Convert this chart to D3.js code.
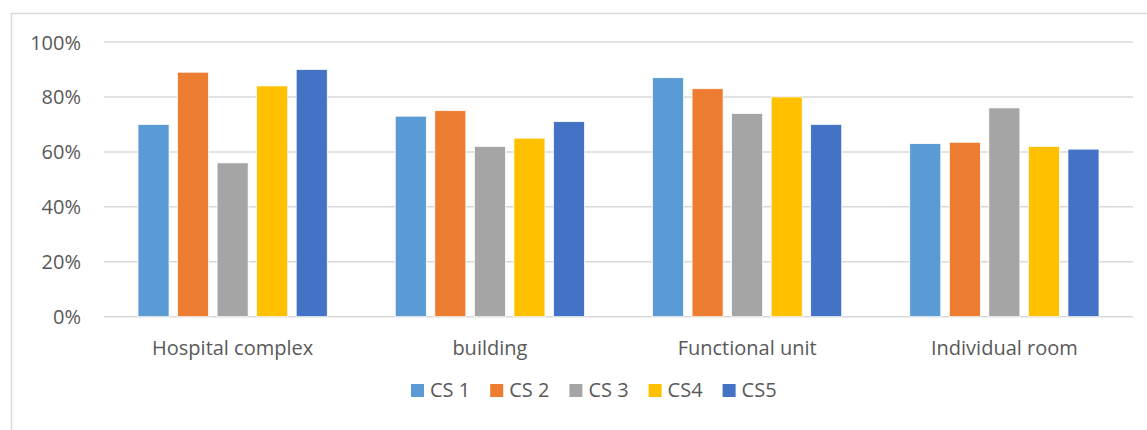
<!DOCTYPE html>
<html>
<head>
<meta charset="utf-8">
<script src="https://cdn.jsdelivr.net/npm/d3@7"></script>
<style>
  body { margin: 0; background: #fff; }
  text { font-family: "Open Sans", "Noto Sans", sans-serif; fill: #595959; }
</style>
</head>
<body>
<div id="chart"></div>
<script>
const categories = ["Hospital complex", "building", "Functional unit", "Individual room"]
const seriesNames = ["CS 1", "CS 2", "CS 3", "CS4", "CS5"]
const cs1 = [0.70, 0.73, 0.87, 0.63]
const cs2 = [0.89, 0.75, 0.83, 0.635]
const cs3 = [0.56, 0.62, 0.74, 0.76]
const cs4 = [0.84, 0.65, 0.80, 0.62]
const cs5 = [0.90, 0.71, 0.70, 0.61]
const yTicks = [0, 0.2, 0.4, 0.6, 0.8, 1]
const colors = ["#5b9bd5", "#ed7d31", "#a5a5a5", "#ffc000", "#4472c4"]

const seriesValues = [cs1, cs2, cs3, cs4, cs5]

const width = 1147,
  height = 430
const margin = { top: 42, left: 104, right: 14, bottom: 113 }

const svg = d3.select("#chart").append("svg").attr("width", width).attr("height", height)

// outer frame of the chart area
svg
  .append("rect")
  .attr("x", 11.5)
  .attr("y", 13.5)
  .attr("width", width + 10)
  .attr("height", height + 10)
  .attr("fill", "none")
  .attr("stroke", "#d9d9d9")
  .attr("stroke-width", 1.5)

const x0 = d3
  .scaleBand()
  .domain(categories)
  .range([margin.left, width - margin.right])

const x1 = d3
  .scaleBand()
  .domain(seriesNames)
  .range([0, x0.bandwidth()])
  .paddingInner(0.215)
  .paddingOuter(0.86)

const y = d3
  .scaleLinear()
  .domain([0, 1])
  .range([height - margin.bottom - 0.3, margin.top])

// gridlines
svg
  .append("g")
  .selectAll("line")
  .data(yTicks)
  .enter()
  .append("line")
  .attr("x1", margin.left)
  .attr("x2", width - margin.right)
  .attr("y1", (d) => y(d))
  .attr("y2", (d) => y(d))
  .attr("stroke", "#d9d9d9")
  .attr("stroke-width", 1.5)

// y axis labels
const yAxis = svg
  .append("g")
  .attr("transform", `translate(${margin.left - 23},0)`)
  .call(d3.axisLeft(y).tickValues(yTicks).tickFormat(d3.format(".0%")).tickSize(0).tickPadding(0))
yAxis.select(".domain").remove()
yAxis.selectAll("text").style("font-size", "20px").attr("fill", "#595959").attr("dy", "0.35em")

// bars
const groups = svg
  .append("g")
  .selectAll("g")
  .data(categories)
  .enter()
  .append("g")
  .attr("transform", (d) => `translate(${x0(d)},0)`)

groups
  .selectAll("rect")
  .data((d, i) => seriesNames.map((s, j) => ({ series: s, value: seriesValues[j][i], color: colors[j] })))
  .enter()
  .append("rect")
  .attr("x", (d) => x1(d.series))
  .attr("width", x1.bandwidth())
  .attr("y", (d) => y(d.value))
  .attr("height", (d) => y(0) - y(d.value))
  .attr("fill", (d) => d.color)
  .attr("stroke", "#fff")
  .attr("stroke-width", 0.75)

// category labels
const xAxis = svg
  .append("g")
  .attr("transform", `translate(0,${y(0)})`)
  .call(d3.axisBottom(x0).tickSize(0).tickPadding(0))
xAxis.select(".domain").remove()
xAxis.selectAll("text").style("font-size", "20px").attr("fill", "#595959").attr("dy", "0").attr("y", 38)

// legend
const legend = svg.append("g").attr("transform", "translate(411,0)")
let lx = 0
seriesNames.forEach((name, i) => {
  const item = legend.append("g").attr("transform", `translate(${lx},0)`)
  item.append("rect").attr("x", 0).attr("y", 384).attr("width", 13).attr("height", 13).attr("fill", colors[i])
  const t = item
    .append("text")
    .attr("x", 19)
    .attr("y", 397)
    .style("font-size", "20px")
    .text(name)
  lx += 19 + t.node().getComputedTextLength() + 20
})
</script>
</body>
</html>
